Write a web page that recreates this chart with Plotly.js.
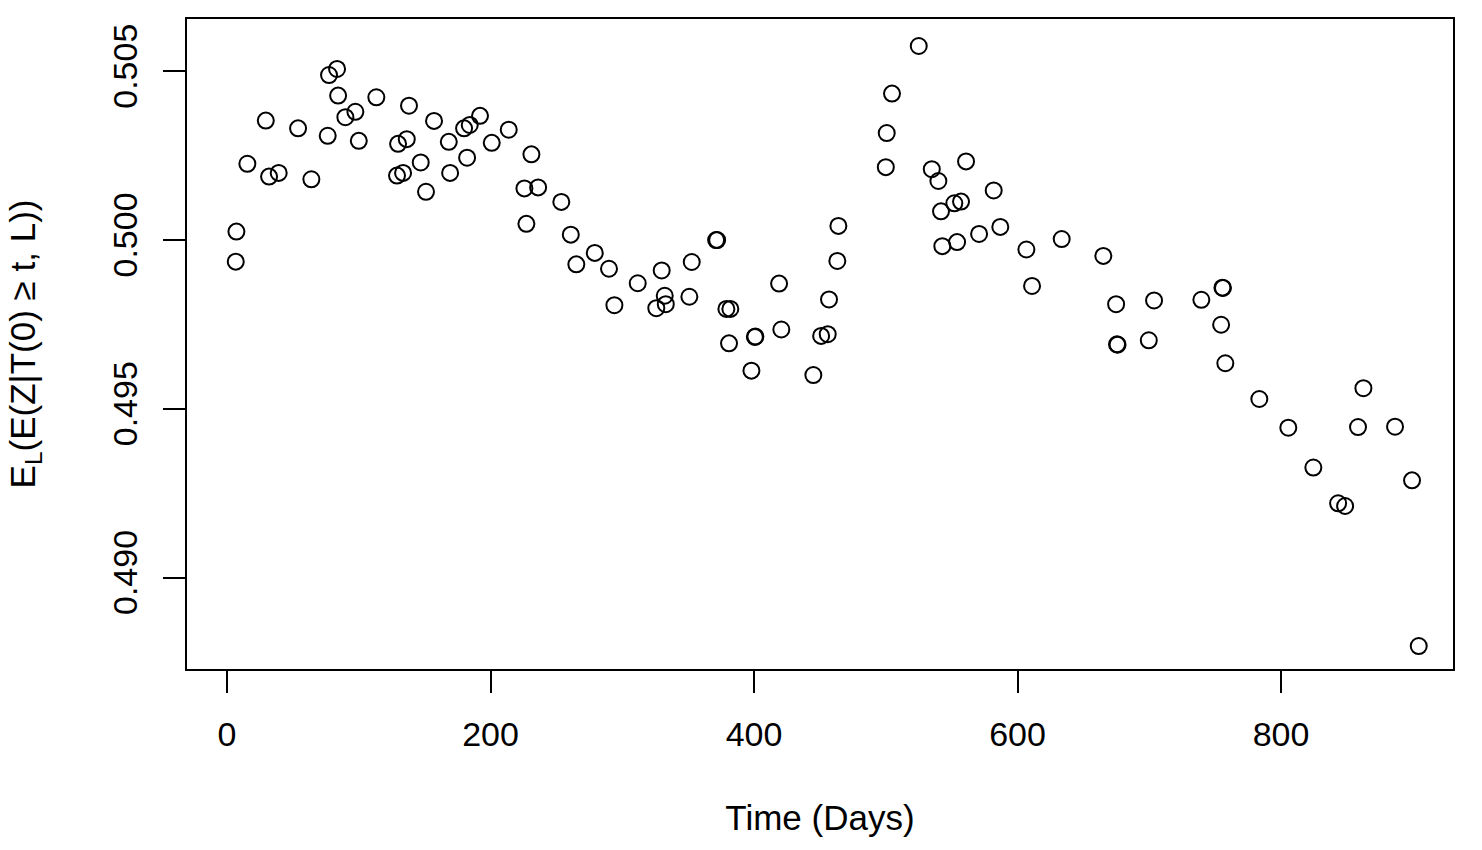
<!DOCTYPE html>
<html>
<head>
<meta charset="utf-8">
<script src="https://cdn.plot.ly/plotly-3.0.1.min.js"></script>
<style>
  html, body { margin: 0; padding: 0; background: #ffffff; }
  #plot { width: 1482px; height: 850px; }
</style>
</head>
<body>
<div id="plot"></div>
<script>
// values
var days = [
  7.1, 6.6, 15.4, 29.4, 31.9, 39.2, 53.9, 64.0, 76.4, 77.4,
  83.5, 84.3, 89.8, 97.4, 100.0, 113.3, 129.8, 136.4, 129.0, 133.6,
  138.1, 147.0, 151.0, 157.1, 168.3, 169.3, 179.9, 184.2, 192.0, 182.2,
  200.9, 213.8, 231.0, 225.7, 236.1, 253.7, 227.2, 260.9, 279.1, 265.1,
  289.9, 294.0, 311.7, 329.9, 332.2, 333.0, 325.8, 352.7, 350.9, 371.2,
  372.0, 379.0, 382.0, 381.0, 400.6, 401.0, 398.0, 419.0, 420.7, 445.0,
  450.9, 455.9, 456.9, 463.2, 464.0, 525.0, 504.7, 500.7, 500.0, 534.9,
  539.9, 560.9, 581.9, 541.9, 552.0, 557.1, 586.9, 570.8, 542.9, 554.1,
  606.7, 633.5, 665.1, 611.0, 674.8, 703.6, 739.5, 755.5, 755.9, 754.5,
  675.5, 675.9, 699.6, 757.7, 783.5, 805.5, 824.5, 843.3, 848.6, 862.5,
  858.4, 886.5, 899.4, 904.5
];
var values = [
  0.50025, 0.49936, 0.50226, 0.50354, 0.50188, 0.50199, 0.50331, 0.50180, 0.50309, 0.50489,
  0.50507, 0.50428, 0.50364, 0.50380, 0.50294, 0.50423, 0.50285, 0.50299, 0.50191, 0.50199,
  0.50398, 0.50230, 0.50143, 0.50353, 0.50291, 0.50199, 0.50331, 0.50341, 0.50368, 0.50244,
  0.50288, 0.50327, 0.50254, 0.50153, 0.50156, 0.50113, 0.50048, 0.50016, 0.49962, 0.49928,
  0.49915, 0.49807, 0.49872, 0.49910, 0.49835, 0.49810, 0.49798, 0.49935, 0.49832, 0.50000,
  0.50000, 0.49796, 0.49796, 0.49694, 0.49713, 0.49714, 0.49613, 0.49871, 0.49735, 0.49600,
  0.49716, 0.49721, 0.49824, 0.49938, 0.50042, 0.50575, 0.50434, 0.50317, 0.50216, 0.50210,
  0.50175, 0.50233, 0.50147, 0.50085, 0.50109, 0.50114, 0.50039, 0.50018, 0.49982, 0.49994,
  0.49972, 0.50003, 0.49953, 0.49864, 0.49810, 0.49821, 0.49823, 0.49859, 0.49858, 0.49749,
  0.49691, 0.49690, 0.49703, 0.49635, 0.49529, 0.49444, 0.49326, 0.49220, 0.49212, 0.49561,
  0.49446, 0.49447, 0.49288, 0.48797
];
var xTicks = [0, 200, 400, 600, 800];
var yTicks = [0.490, 0.495, 0.500, 0.505];

var plotDiv = document.getElementById('plot');

var points_trace = {
   x: days,
   y: values,
   mode: 'markers',
   type: 'scatter',
   marker: {
      symbol: 'circle-open',
      size: 16,
      color: '#000000',
      line: {width: 2, color: '#000000'}
   },
   hoverinfo: 'x+y'
};

var tick_font = {family: 'Liberation Sans, Arial, sans-serif', size: 34, color: '#000000'};
var title_font = {family: 'Liberation Sans, Arial, sans-serif', size: 35, color: '#000000'};

xaxis_layout = {
   range: [-30.4, 930.5],
   tickmode: 'array',
   tickvals: xTicks,
   ticktext: xTicks.map(String),
   ticks: 'outside',
   ticklen: 22,
   tickwidth: 2,
   tickcolor: '#000000',
   ticklabelstandoff: 12,
   tickfont: tick_font,
   showgrid: false,
   zeroline: false,
   showline: true,
   linecolor: '#000000',
   linewidth: 2,
   mirror: true,
   title: {text: 'Time (Days)', font: title_font, standoff: 54}
};

yaxis_layout = {
   range: [0.48729, 0.50655],
   tickmode: 'array',
   tickvals: yTicks,
   ticktext: yTicks.map(function (v) { return v.toFixed(3); }),
   tickangle: -90,
   ticks: 'outside',
   ticklen: 22,
   tickwidth: 2,
   tickcolor: '#000000',
   ticklabelstandoff: 12,
   tickfont: tick_font,
   showgrid: false,
   zeroline: false,
   showline: true,
   linecolor: '#000000',
   linewidth: 2,
   mirror: true,
   title: {text: 'E<sub>L</sub>(E(Z|T(0) \u2265 t, L))', font: title_font, standoff: 60}
};

Plotly.newPlot(plotDiv, [points_trace], {
   width: 1482,
   height: 850,
   margin: {l: 187, r: 29, t: 19, b: 181},
   paper_bgcolor: '#ffffff',
   plot_bgcolor: '#ffffff',
   showlegend: false,
   xaxis: xaxis_layout,
   yaxis: yaxis_layout
}, {displayModeBar: false, staticPlot: true});
</script>
</body>
</html>
